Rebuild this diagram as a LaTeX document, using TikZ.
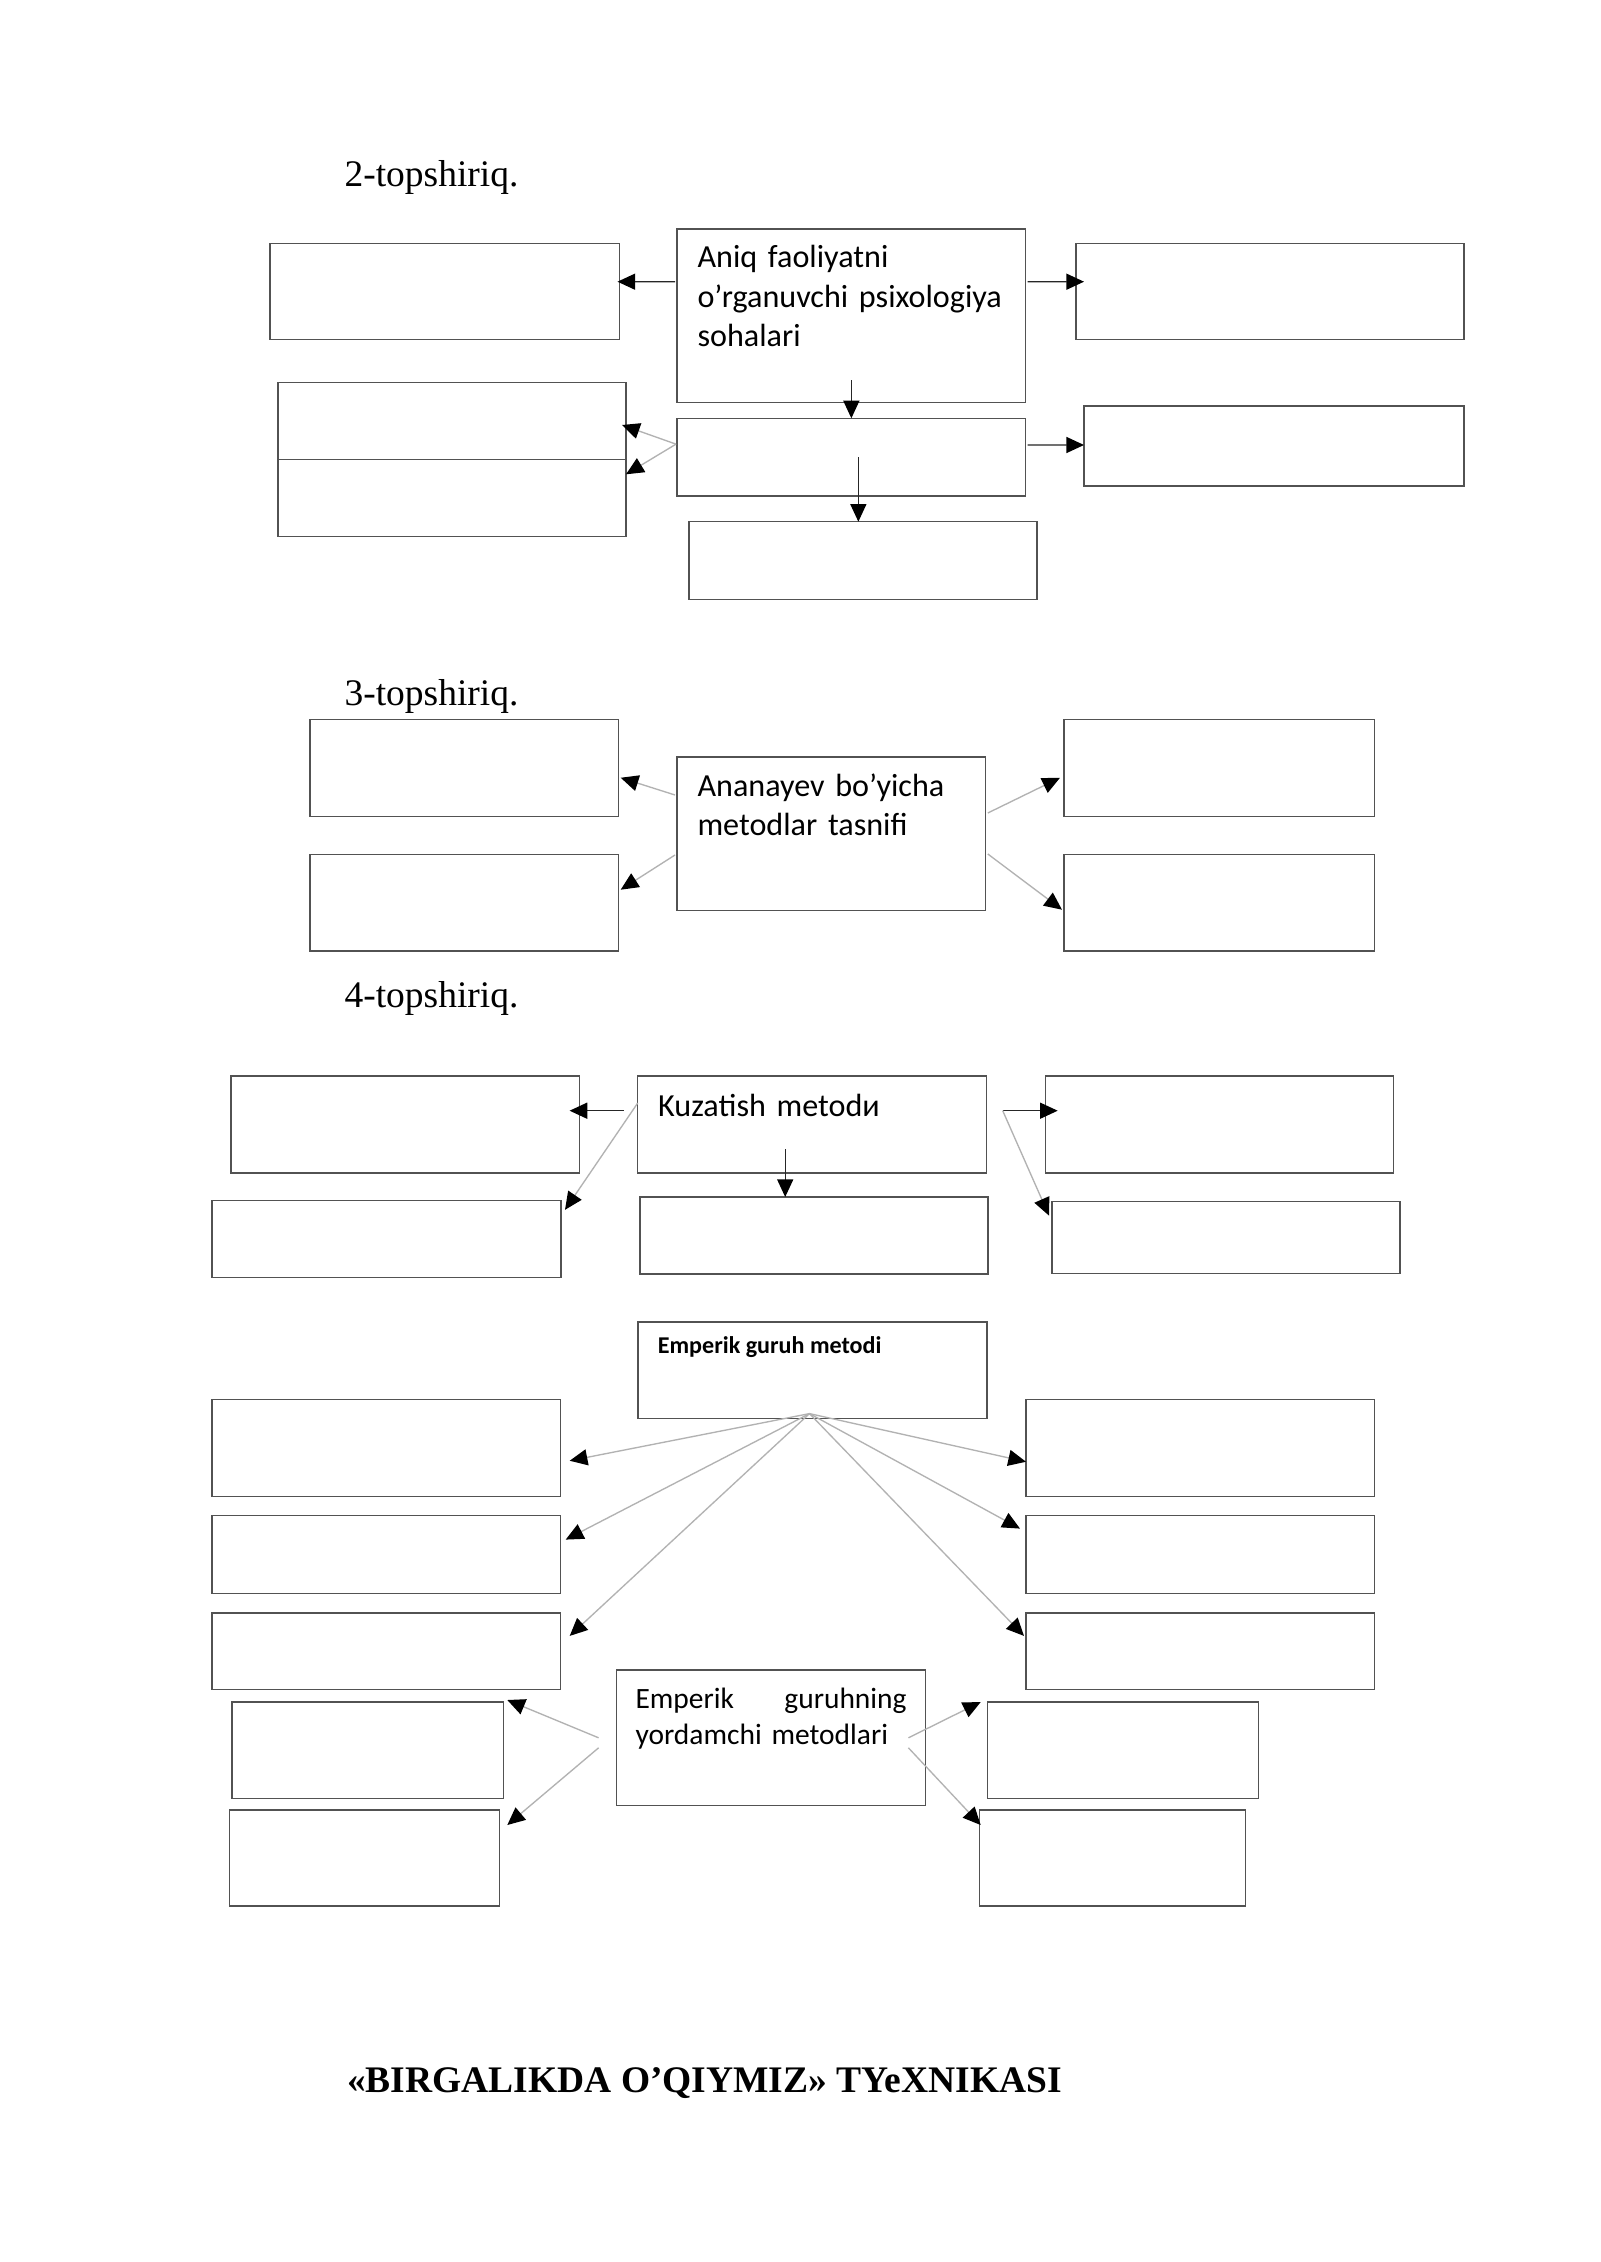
\documentclass[tikz,border=0pt]{standalone}
\usepackage{fontspec}
\setmainfont{Liberation Serif}
\newfontfamily\calfont{Carlito}
\usetikzlibrary{arrows.meta,fit,calc}
\begin{document}
\begin{tikzpicture}[x=0.013125cm,y=-0.013125cm,
  box/.style={draw=black!68, line width=0.5pt, inner sep=0pt, outer sep=0pt},
  ttl/.style={inner sep=0pt, anchor=base west, font=\fontsize{14}{16.1}\selectfont},
  btxt/.style={inner sep=0pt, anchor=base west, align=left, text width=150pt, font=\calfont\fontsize{12}{14.65}\selectfont},
  tipstyle/.style={-{Triangle[length=6.6pt,width=6pt,color=black,fill=black]}},
  lcon/.style={draw=black!30, line width=0.5pt, tipstyle},
  dcon/.style={draw=black!85, line width=0.5pt, tipstyle},
]
\useasboundingbox (0,0) rectangle (1600,2262);
\fill[white] (0,0) rectangle (1600,2262);

% ---------- 2-topshiriq ----------
\node[ttl] (t2) at (344,187) {2-topshiriq.};
\node[box, fit={(270,243.3) (619.5,339.3)}] (L1) {};
\node[box, fit={(677,229) (1025.7,402.3)}] (C) {};
\node[box, fit={(1076,243.3) (1464,339.3)}] (R1) {};
\node[box, fit={(677,418.3) (1025.7,496)}] (C2) {};
\node[box, fit={(278,382.7) (626,459.3)}] (LA) {};
\node[box, fit={(278,459.3) (626,536.7)}] (LB) {};
\node[box, fit={(1084,406) (1464,486)}] (R2) {};
\node[box, fit={(689,521.7) (1037,599.3)}] (C3) {};
\node[btxt] (Ctext) at (697,268) {Aniq faoliyatni\\o’rganuvchi psixologiya\\sohalari};

\draw[dcon] ($(C.north west)+(-2,52.7)$) -- ($(L1.north east)+(-2,38.4)$);
\draw[dcon] ($(C.north east)+(2,52.7)$) -- ($(R1.north west)+(8,38.4)$);
\coordinate (d1) at ($(C.south)+(0,-22)$);
\draw[dcon] (d1) -- (d1 |- C2.north);
\draw[dcon] ($(C2.north east)+(2,26.7)$) -- ($(R2.north west)+(0,39)$);
\coordinate (d2) at ($(C2.center)+(7,0)$);
\draw[dcon] (d2) -- (d2 |- C3.north);
\coordinate (s2) at ($(C2.west)+(-1,-13)$);
\draw[lcon] (s2) -- ($(LA.east)+(-4,4)$);
\draw[lcon] (s2) -- ($(LB.north east)+(0,15)$);

% ---------- 3-topshiriq ----------
\node[ttl] (t3) at (344,705.6) {3-topshiriq.};
\node[box, fit={(310,719.3) (618.7,816.2)}] (L3a) {};
\node[box, fit={(310,854.4) (618.7,951)}] (L3b) {};
\node[box, fit={(677,757) (985.8,910.7)}] (A) {};
\node[box, fit={(1064,719.3) (1374.5,816.2)}] (R3a) {};
\node[box, fit={(1064,854.4) (1374.5,951)}] (R3b) {};
\node[btxt] (Atext) at (697,796) {Ananayev bo’yicha\\metodlar tasnifi};

\draw[lcon] ($(A.north west)+(-2,38)$) -- ($(L3a.east)+(2,10)$);
\draw[lcon] ($(A.north west)+(-2,98)$) -- ($(L3b.east)+(2,-13)$);
\draw[lcon] ($(A.north east)+(2,56)$) -- ($(R3a.west)+(-4,10)$);
\draw[lcon] ($(A.north east)+(2,97)$) -- ($(R3b.west)+(-2,7)$);

% ---------- 4-topshiriq ----------
\node[ttl] (t4) at (344,1007.3) {4-topshiriq.};
\node[box, fit={(637.7,1076) (986.7,1173)}] (K) {};
\node[box, fit={(231,1076) (579.6,1173)}] (KL1) {};
\node[box, fit={(212,1200.8) (561,1277.5)}] (KL2) {};
\node[box, fit={(640,1197) (988,1274)}] (KC) {};
\node[box, fit={(1045.7,1076) (1393.7,1173)}] (KR1) {};
\node[box, fit={(1052,1201.6) (1400,1273.8)}] (KR2) {};
\node[btxt] (Ktext) at (657.7,1116.7) {Kuzatish metodи};

\draw[dcon] ($(K.north west)+(-14,34.7)$) -- ($(KL1.north east)+(-10,34.7)$);
\draw[lcon] ($(K.north west)+(0,27)$) -- ($(KL2.north east)+(4,9)$);
\draw[dcon] ($(K.north east)+(16,34.7)$) -- ($(KR1.north west)+(12,34.7)$);
\draw[lcon] ($(K.north east)+(16,34.7)$) -- ($(KR2.north west)+(-3,14)$);
\coordinate (d3) at ($(K.south)+(-27,-24)$);
\draw[dcon] (d3) -- (d3 |- KC.north);

% ---------- Emperik guruh metodi ----------
\node[box, fit={(638,1322) (987,1418.6)}] (E) {};
\node[inner sep=0pt, anchor=base west, font=\calfont\bfseries\fontsize{9}{11}\selectfont] (Etext) at (657.3,1353.4) {Emperik guruh metodi};
\node[box, fit={(212,1399.3) (560.7,1496.2)}] (EL1) {};
\node[box, fit={(212,1515.6) (560.7,1593.2)}] (EL2) {};
\node[box, fit={(212,1612.9) (560.7,1689.3)}] (EL3) {};
\node[box, fit={(1026,1399.3) (1374.8,1496.2)}] (ER1) {};
\node[box, fit={(1026,1515.6) (1374.8,1593.2)}] (ER2) {};
\node[box, fit={(1026,1612.9) (1374.8,1689.3)}] (ER3) {};

\coordinate (fan) at ($(E.south)+(-3,-5)$);
\draw[lcon] (fan) -- ($(EL1.east)+(9,13)$);
\draw[lcon] (fan) -- ($(EL2.north east)+(5,24)$);
\draw[lcon] (fan) -- ($(EL3.north east)+(9,23)$);
\draw[lcon] (fan) -- ($(ER1.west)+(0,14)$);
\draw[lcon] (fan) -- ($(ER2.north west)+(-6,13)$);
\draw[lcon] (fan) -- ($(ER3.north west)+(-2,23)$);

% ---------- Emperik guruhning yordamchi metodlari ----------
\node[box, fit={(616.6,1670) (925.4,1805.6)}] (Y) {};
\node[btxt, text width=101.2pt, font=\calfont\fontsize{11}{13.4}\selectfont] (Ytext) at (635,1708.2) {Emperik\hfill guruhning\\yordamchi metodlari};
\node[box, fit={(232,1702) (503.3,1798.7)}] (YL1) {};
\node[box, fit={(229.5,1810) (499.3,1906)}] (YL2) {};
\node[box, fit={(987.7,1702) (1258.3,1798.7)}] (YR1) {};
\node[box, fit={(979.7,1810) (1245.5,1906)}] (YR2) {};

\draw[lcon] ($(Y.west)+(-18,0)$) -- ($(YL1.north east)+(4,-2)$);
\draw[lcon] ($(Y.west)+(-18,10)$) -- ($(YL2.north east)+(8,15)$);
\draw[lcon] ($(Y.east)+(-17,0)$) -- ($(YR1.north west)+(-7,0)$);
\draw[lcon] ($(Y.east)+(-17,10)$) -- ($(YR2.north west)+(1,15)$);

% ---------- bottom title ----------
\node[ttl, font=\bfseries\fontsize{14}{16.1}\selectfont] (tb) at (346.6,2092) {«BIRGALIKDA O’QIYMIZ» TYeXNIKASI};
\end{tikzpicture}
\end{document}
